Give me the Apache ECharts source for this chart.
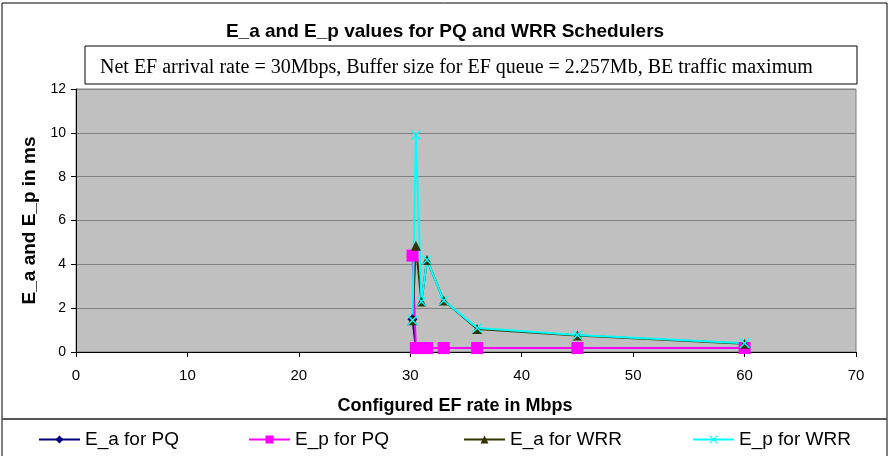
<!DOCTYPE html>
<html>
<head>
<meta charset="utf-8">
<script src="https://cdn.jsdelivr.net/npm/echarts@6/dist/echarts.min.js"></script>
<style>
  html, body { margin: 0; padding: 0; background: #fff; }
  #chart { width: 890px; height: 456px; }
</style>
</head>
<body>
<div id="chart"></div>
<script>
// configured EF rate (Mbps)
var efRate = [30.2, 30.5, 31, 31.5, 33, 36, 45, 60];
// delays in ms
var eaPQ = [1.5, 0.18, 0.18, 0.18, 0.18, 0.18, 0.18, 0.18];
var epPQ = [4.4, 0.18, 0.18, 0.18, 0.18, 0.18, 0.18, 0.18];
var eaWRR = [1.45, 4.85, 2.3, 4.2, 2.35, 1.05, 0.75, 0.38];
var epWRR = [1.45, 9.9, 2.3, 4.2, 2.35, 1.1, 0.78, 0.4];
var xTicks = [0, 10, 20, 30, 40, 50, 60, 70];
var yTicks = [0, 2, 4, 6, 8, 10, 12];

function pairs(ys) {
  return efRate.map(function (x, i) { return [x, ys[i]]; });
}

var xMark = 'path://M0,1 L1,0 L5,4 L9,0 L10,1 L6,5 L10,9 L9,10 L5,6 L1,10 L0,9 L4,5 Z';

var font = 'Arial, "Liberation Sans", sans-serif';

var myChart = echarts.init(document.getElementById("chart"));

function lineSeries(name, ys, color, symbol, size) {
  return {
    name: name,
    type: "line",
    data: pairs(ys),
    symbol: symbol,
    symbolSize: size,
    showAllSymbol: true,
    lineStyle: { color: color, width: 2 },
    itemStyle: { color: color },
    emphasis: { disabled: true },
    animation: false
  };
}

function legendAt(name, left) {
  return {
    data: [name],
    left: left,
    top: 425,
    itemWidth: 41,
    itemHeight: 10,
    itemGap: 4,
    textStyle: { fontFamily: font, fontSize: 19, color: "#000", padding: [0, 0, 0, 0] }
  };
}

var option = {
  backgroundColor: "#fff",
  title: {
    text: "E_a and E_p values for PQ and WRR Schedulers",
    left: "center",
    top: 17,
    textStyle: { fontFamily: font, fontSize: 19, fontWeight: "bold", color: "#000" }
  },
  graphic: [
    { type: "rect", shape: { x: 2, y: 3, width: 885, height: 460 }, style: { fill: "none", stroke: "#000", lineWidth: 1 } },
    { type: "line", shape: { x1: 2, y1: 419, x2: 887, y2: 419 }, style: { stroke: "#555", lineWidth: 2 } },
    { type: "rect", shape: { x: 85, y: 46, width: 772, height: 38 }, style: { fill: "#fff", stroke: "#000", lineWidth: 1 } },
    {
      type: "text", left: 100, top: 58,
      style: {
        text: "Net EF arrival rate = 30Mbps, Buffer size for EF queue = 2.257Mb, BE traffic maximum",
        font: '20px "Liberation Serif", "Times New Roman", serif', fill: "#000"
      }
    }
  ],
  legend: [
    legendAt("E_a for PQ", 33),
    legendAt("E_p for PQ", 243),
    legendAt("E_a for WRR", 458),
    legendAt("E_p for WRR", 687)
  ],
  grid: {
    left: 76, right: 34, top: 89, bottom: 104,
    show: true, backgroundColor: "#c0c0c0", borderColor: "#808080", borderWidth: 1
  },
  xAxis: {
    type: "value",
    min: xTicks[0], max: xTicks[xTicks.length - 1], interval: 10,
    name: "Configured EF rate in Mbps",
    nameLocation: "middle", nameGap: 45,
    nameTextStyle: { fontFamily: font, fontSize: 18, fontWeight: "bold", color: "#000", padding: [0, 22, 0, 0] },
    axisLine: { lineStyle: { color: "#000", width: 1 } },
    axisTick: { show: true, length: 5, lineStyle: { color: "#000" } },
    axisLabel: { fontFamily: font, fontSize: 15, color: "#000", margin: 16 },
    splitLine: { show: false }
  },
  yAxis: {
    type: "value",
    min: yTicks[0], max: yTicks[yTicks.length - 1], interval: 2,
    name: "E_a and E_p in ms",
    nameLocation: "middle", nameGap: 36,
    nameTextStyle: { fontFamily: font, fontSize: 19, fontWeight: "bold", color: "#000" },
    axisLine: { show: true, lineStyle: { color: "#000", width: 1 } },
    axisTick: { show: true, length: 5, lineStyle: { color: "#000" } },
    axisLabel: { fontFamily: font, fontSize: 14, color: "#000", margin: 10 },
    splitLine: { show: true, lineStyle: { color: "#808080", width: 1 } }
  },
  series: [
    lineSeries("E_a for PQ", eaPQ, "#000080", "diamond", 10),
    lineSeries("E_p for PQ", epPQ, "#ff00ff", "rect", 12),
    lineSeries("E_a for WRR", eaWRR, "#333300", "triangle", 10),
    lineSeries("E_p for WRR", epWRR, "#00ffff", xMark, 10)
  ]
};

myChart.setOption(option);
</script>
</body>
</html>
